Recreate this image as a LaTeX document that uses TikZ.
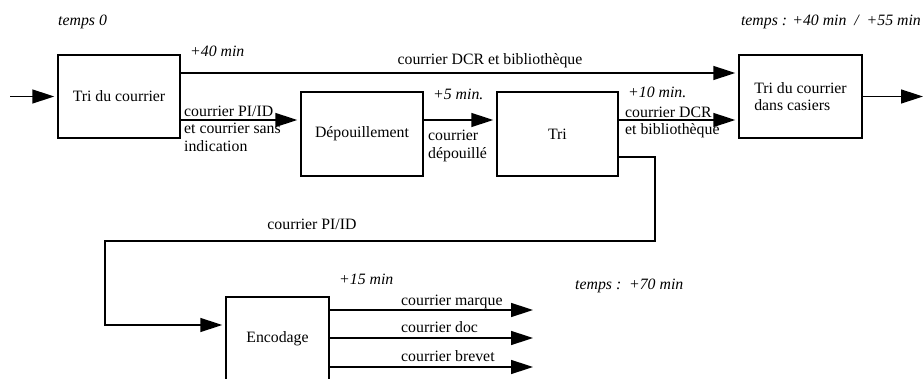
\documentclass[tikz,border=0pt]{standalone}
\usepackage{fontspec}
\setmainfont{Liberation Serif}
\usetikzlibrary{arrows.meta}
\begin{document}
\begin{tikzpicture}[x=1pt,y=-1pt,
  font=\fontsize{15.8}{17.5}\selectfont,
  box/.style={draw,line width=1.5pt,inner sep=0pt},
  wire/.style={line width=1.5pt},
  flow/.style={wire,-{Triangle[length=22pt,width=14pt]},shorten >=3pt},
  lbl/.style={inner sep=0pt,anchor=base west},
  mlbl/.style={inner sep=0pt,anchor=north west,align=left},
  tlbl/.style={lbl,font=\fontsize{15.8}{17.5}\selectfont\itshape}]
\useasboundingbox (0,0) rectangle (924,379);
\clip (0,0) rectangle (924,379);

% boxes
\node[box,minimum width=122pt,minimum height=83pt] (b1) at (119,96.5) {Tri du courrier};
\node[box,minimum width=122pt,minimum height=84pt] (b2) at (362,134) {Dépouillement};
\node[box,minimum width=121pt,minimum height=84pt] (b3) at (557.5,134) {Tri};
\node[box,minimum width=123pt,minimum height=83pt,align=left] (b4) at (800.5,96.5) {Tri du courrier\\dans casiers};
\node[box,minimum width=103pt,minimum height=84pt] (enc) at (277.5,339) {Encodage};

% free ends
\coordinate (in) at (10,96.5);
\coordinate (out) at (926,96.5);
\coordinate (c1) at (655,157);
\coordinate (c2) at (655,241);
\coordinate (c3) at (105,241);
\coordinate (c4) at (105,325);
\coordinate (o1) at (536,310);
\coordinate (o2) at (536,338);
\coordinate (o3) at (536,367);

% connectors
\draw[flow] (in) -- (b1.west);
\draw[flow] (b1.east |- 0,73) -- (b4.west |- 0,73);
\draw[flow] (b1.east |- 0,120) -- (b2.west |- 0,120);
\draw[flow] (b2.east |- 0,120) -- (b3.west |- 0,120);
\draw[flow] (b3.east |- 0,120) -- (b4.west |- 0,120);
\draw[flow] (b4.east) -- (out);
\draw[flow] (b3.east |- c1) -- (c1) -- (c2) -- (c3) -- (c4) -- (enc.west |- c4);
\draw[flow] (enc.east |- o1) -- (o1);
\draw[flow] (enc.east |- o2) -- (o2);
\draw[flow] (enc.east |- o3) -- (o3);

% labels
\node[tlbl] (t0) at (58,26) {temps 0};
\node[tlbl,anchor=base east] (t1) at (921,26) {temps : +40 min\ \ /\ \ +55 min};
\node[tlbl] (t40) at (190,57) {+40 min};
\node[lbl,anchor=base] (ldcr) at (490,65) {courrier DCR et bibliothèque};
\node[mlbl] (lpi) at (184,105.5) {courrier PI/ID\\et courrier sans\\indication};
\node[tlbl] (t5) at (433,100) {+5 min.};
\node[mlbl] (ldep) at (428,130) {courrier\\dépouillé};
\node[tlbl] (t10) at (628,98) {+10 min.};
\node[mlbl] (ldcr2) at (625,106.5) {courrier DCR\\et bibliothèque};
\node[lbl,anchor=base] (lpi2) at (312,230) {courrier PI/ID};
\node[tlbl] (t15) at (339,285) {+15 min};
\node[tlbl] (t70) at (575,290) {temps :\ \ +70 min};
\node[lbl] (lm) at (401,306) {courrier marque};
\node[lbl] (ld) at (401,333) {courrier doc};
\node[lbl] (lb) at (401,362) {courrier brevet};
\end{tikzpicture}
\end{document}
